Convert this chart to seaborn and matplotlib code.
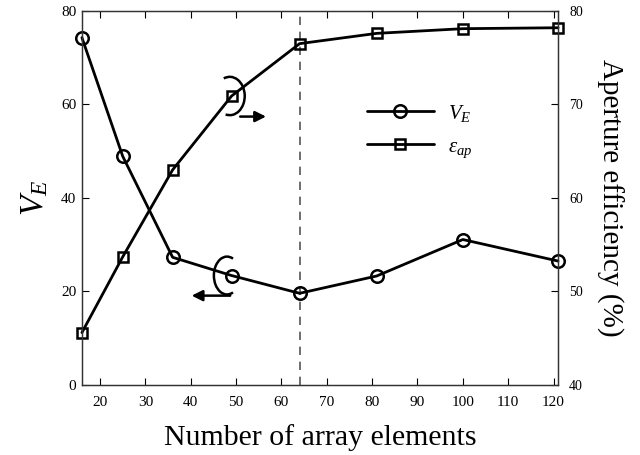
import matplotlib
matplotlib.use("Agg")
import matplotlib.pyplot as plt
from matplotlib.patches import Arc
import seaborn as sns
import pandas as pd

# values
elements = [16, 25, 36, 49, 64, 81, 100, 121]
ve = [74.3, 48.9, 27.3, 23.4, 19.6, 23.3, 31.1, 26.5]
eff = [45.6, 53.7, 63.0, 70.9, 76.5, 77.6, 78.1, 78.2]
x_ticks = [20, 30, 40, 50, 60, 70, 80, 90, 100, 110, 120]
left_ticks = [0, 20, 40, 60, 80]
right_ticks = [40, 50, 60, 70, 80]
marked = 64

df = pd.DataFrame({"n": elements, "ve": ve, "eff": eff})

sns.set_style("ticks")
plt.rcParams["font.family"] = ["Liberation Serif", "DejaVu Serif"]
plt.rcParams["mathtext.fontset"] = "custom"
plt.rcParams["mathtext.rm"] = "Liberation Serif"
plt.rcParams["mathtext.it"] = "Liberation Serif:italic"
for key in ["text.color", "axes.labelcolor", "xtick.color", "ytick.color"]:
    plt.rcParams[key] = "black"

fig = plt.figure(figsize=(6.4, 4.55), dpi=100)
ax = fig.add_axes([0.128, 0.154, 0.744, 0.822])
ax2 = ax.twinx()

sns.lineplot(data=df, x="n", y="ve", ax=ax, color="black", lw=2,
             marker="o", markersize=9, markerfacecolor="none",
             markeredgecolor="black", markeredgewidth=1.8, label="$V_E$", legend=False)
sns.lineplot(data=df, x="n", y="eff", ax=ax2, color="black", lw=2,
             marker="s", markersize=7, markerfacecolor="none",
             markeredgecolor="black", markeredgewidth=1.8,
             label=r"$\varepsilon_{ap}$", legend=False)
for ln in ax.lines + ax2.lines:
    ln.set_clip_on(False)

ax.axvline(marked, color="#555555", lw=1.2, dashes=(5, 4), zorder=0)

ax.set_xlim(16, 121)
ax.set_ylim(0, 80)
ax2.set_ylim(40, 80)
ax.set_xticks(x_ticks)
ax.set_yticks(left_ticks)
ax2.set_yticks(right_ticks)

ax.tick_params(axis="x", direction="in", top=True, length=5, labelsize=11, pad=8)
ax.tick_params(axis="y", direction="in", length=5, labelsize=11, pad=4)
ax2.tick_params(axis="y", direction="in", length=5, labelsize=10, pad=8)

ax.set_xlabel("Number of array elements", fontsize=21.5, labelpad=11)
ax.set_ylabel("$V_E$", fontsize=24, labelpad=8)
ax2.set_ylabel("Aperture efficiency (%)", fontsize=21, rotation=270, labelpad=29)

for a in (ax, ax2):
    for s in a.spines.values():
        s.set_color("#333333")
        s.set_linewidth(0.9)

# rotating-arrow annotations
i = elements.index(49)
ax2.add_patch(Arc((elements[i] - 0.4, eff[i]), 6.6, 4.1, theta1=-115, theta2=125,
                  color="black", lw=1.8))
ax2.annotate("", xy=(elements[i] + 7.6, eff[i] - 2.2), xytext=(elements[i] + 1.9, eff[i] - 2.2),
             arrowprops=dict(arrowstyle="-|>", color="black", lw=1.8, mutation_scale=16,
                             shrinkA=0, shrinkB=0))
ax.add_patch(Arc((elements[i] - 1.0, ve[i]), 5.8, 8.1, theta1=70, theta2=290,
                 color="black", lw=1.8))
ax.annotate("", xy=(elements[i] - 8.8, ve[i] - 4.3), xytext=(elements[i] - 0.3, ve[i] - 4.3),
            arrowprops=dict(arrowstyle="-|>", color="black", lw=1.8, mutation_scale=16,
                            shrinkA=0, shrinkB=0))

h1, l1 = ax.get_legend_handles_labels()
h2, l2 = ax2.get_legend_handles_labels()
ax2.legend(h1 + h2, l1 + l2, loc="upper left", bbox_to_anchor=(0.599, 0.755),
           frameon=False, fontsize=15, handlelength=3.2, handletextpad=0.7,
           labelspacing=0.65, borderpad=0, borderaxespad=0)

fig.savefig("out.png", dpi=100)
